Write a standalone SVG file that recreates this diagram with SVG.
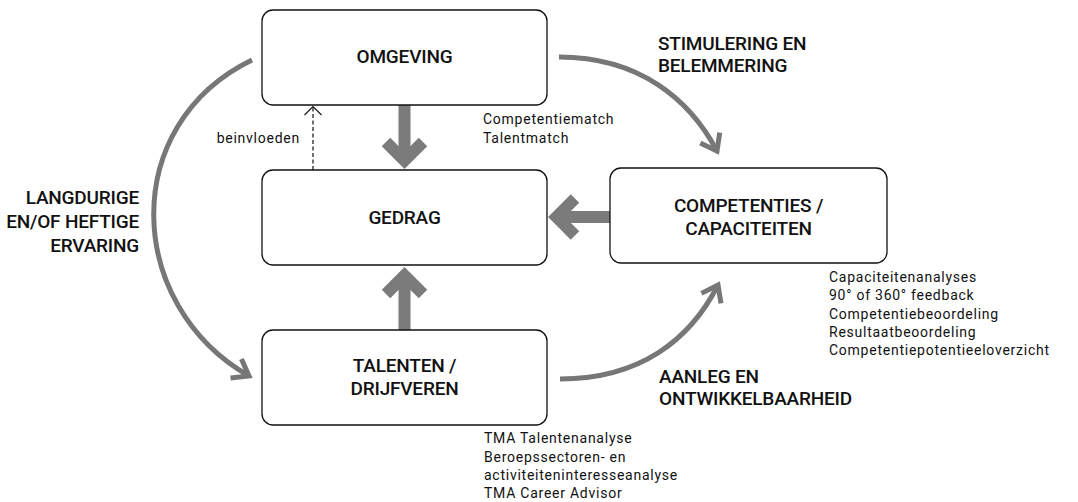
<svg xmlns="http://www.w3.org/2000/svg" width="1078" height="502" viewBox="0 0 1078 502">
<defs>
<style>
.box{fill:#fff;stroke:#111;stroke-width:1.3}
.h{font-family:Roboto,"Liberation Sans",sans-serif;font-weight:500;font-size:19px;letter-spacing:-0.2px;fill:#111}
.s{font-family:Roboto,"Liberation Sans",sans-serif;font-weight:400;font-size:14px;letter-spacing:0.75px;fill:#111}
.curve{fill:none;stroke:#777;stroke-width:5}
.thick{fill:none;stroke:#7b7b7b;stroke-width:12;stroke-linejoin:miter}
</style>
<marker id="chev" markerUnits="userSpaceOnUse" markerWidth="40" markerHeight="40" refX="0" refY="0" viewBox="-20 -20 40 40" orient="auto" overflow="visible">
<path d="M-15,-11 L0,0 L-15,11" fill="none" stroke="#777" stroke-width="5" stroke-linejoin="miter"/>
</marker>
</defs>
<rect width="1078" height="502" fill="#fff"/>

<g id="connectors">
<path class="curve" d="M559,57 C640,57 690,100 717,151" marker-end="url(#chev)"/>
<path class="curve" d="M560,379 C640,379 690,340 718,285" marker-end="url(#chev)"/>
<path class="curve" d="M252,60 C118,125 125,305 249,376" marker-end="url(#chev)"/>
<line class="thick" x1="404.5" y1="104" x2="404.5" y2="160"/>
<polyline class="thick" points="386,142 404.5,160.5 423,142"/>
<line class="thick" x1="404.5" y1="330" x2="404.5" y2="276"/>
<polyline class="thick" points="386,294 404.5,275.5 423,294"/>
<line class="thick" x1="613" y1="217" x2="557" y2="217"/>
<polyline class="thick" points="575,198.5 556.5,217 575,235.5"/>
<line x1="313" y1="170" x2="313" y2="107" stroke="#111" stroke-width="1.2" stroke-dasharray="4,2.5"/>
<polyline points="304.5,115 313,106.5 321.5,115" fill="none" stroke="#111" stroke-width="1.1"/>
</g>

<g id="omgeving">
<rect class="box" x="262" y="10" width="285" height="95" rx="11"/>
<text class="h" x="404.5" y="63" text-anchor="middle">OMGEVING</text>
</g>
<g id="gedrag">
<rect class="box" x="262" y="170" width="285" height="95" rx="11"/>
<text class="h" x="404.5" y="224" text-anchor="middle">GEDRAG</text>
</g>
<g id="talenten">
<rect class="box" x="262" y="330" width="285" height="95" rx="11"/>
<text class="h" x="404.5" y="372" text-anchor="middle">TALENTEN /</text>
<text class="h" x="404.5" y="395" text-anchor="middle">DRIJFVEREN</text>
</g>
<g id="competenties">
<rect class="box" x="610" y="168" width="277" height="95" rx="11"/>
<text class="h" x="748.5" y="212" text-anchor="middle">COMPETENTIES /</text>
<text class="h" x="748.5" y="235" text-anchor="middle">CAPACITEITEN</text>
</g>

<g id="labels">
<text class="h" x="139" y="204" text-anchor="end">LANGDURIGE</text>
<text class="h" x="139" y="228" text-anchor="end">EN/OF HEFTIGE</text>
<text class="h" x="139" y="252" text-anchor="end">ERVARING</text>
<text class="h" x="658" y="50">STIMULERING EN</text>
<text class="h" x="658" y="72">BELEMMERING</text>
<text class="h" x="659" y="383">AANLEG EN</text>
<text class="h" x="659" y="405">ONTWIKKELBAARHEID</text>
<text class="s" x="300" y="143" text-anchor="end">beinvloeden</text>
<text class="s" x="483" y="124">Competentiematch</text>
<text class="s" x="483" y="143">Talentmatch</text>
<text class="s" x="829" y="282">Capaciteitenanalyses</text>
<text class="s" x="829" y="300">90° of 360° feedback</text>
<text class="s" x="829" y="318.5">Competentiebeoordeling</text>
<text class="s" x="829" y="337">Resultaatbeoordeling</text>
<text class="s" x="829" y="355">Competentiepotentieeloverzicht</text>
<text class="s" x="484" y="443">TMA Talentenanalyse</text>
<text class="s" x="484" y="461.5">Beroepssectoren- en</text>
<text class="s" x="484" y="480">activiteiteninteresseanalyse</text>
<text class="s" x="484" y="498">TMA Career Advisor</text>
</g>
</svg>
